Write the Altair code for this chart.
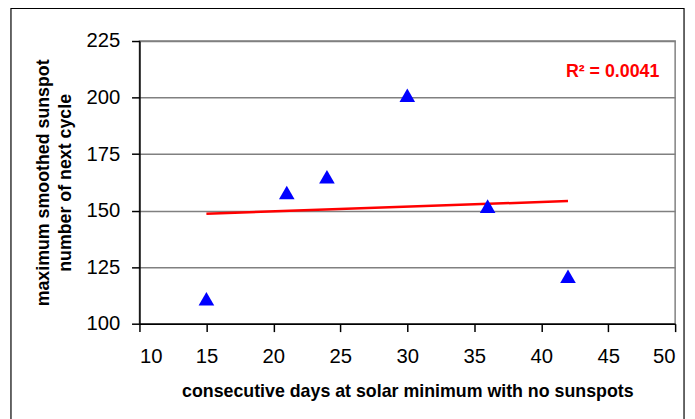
import altair as alt
import pandas as pd

days = [15, 21, 24, 30, 36, 42]
max_sunspot = [111, 158, 165, 201, 152, 121]
r2_label = "R² = 0.0041"
x_ticks = [10, 15, 20, 25, 30, 35, 40, 45, 50]
y_ticks = [100, 125, 150, 175, 200, 225]

df = pd.DataFrame({"days": days, "sunspot": max_sunspot})
one = pd.DataFrame({"a": [0]})

W, H = 542, 286

xs = alt.Scale(domain=[10, 50], nice=False, zero=False)
ys = alt.Scale(domain=[100, 225], nice=False, zero=False)

x_enc = alt.X("days:Q", scale=xs, axis=alt.Axis(
    values=x_ticks, grid=False, title="consecutive days at solar minimum with no sunspots",
    tickSize=8, labelPadding=15, titlePadding=16))
y_enc = alt.Y("sunspot:Q", scale=ys, axis=alt.Axis(
    values=y_ticks, grid=True, title=["maximum smoothed sunspot", "number of next cycle"],
    tickSize=8, labelPadding=12, titlePadding=12, titleLineHeight=22))

points = alt.Chart(df).mark_point(shape="triangle-up", filled=True, color="#0000ff",
                                  size=250, opacity=1).encode(x=x_enc, y=y_enc)

trend = alt.Chart(df).transform_regression("days", "sunspot").mark_line(
    color="#ff0000", strokeWidth=2.5).encode(x="days:Q", y="sunspot:Q")

r2 = alt.Chart(one).mark_text(text=r2_label, color="#ff0000", fontSize=18,
                              fontWeight="bold", align="right", baseline="middle",
                              font="Liberation Sans").encode(
    x=alt.value(526), y=alt.value(31))

frame = alt.Chart(one).mark_rect(fill=None, stroke="black", strokeWidth=1.2, clip=False).encode(
    x=alt.value(-130), x2=alt.value(551), y=alt.value(-33), y2=alt.value(420))

chart = alt.layer(frame, trend, points, r2).properties(
    width=W, height=H,
    autosize=alt.AutoSizeParams(type="none"),
    padding={"left": 133, "top": 31, "right": 12, "bottom": 94},
    background="white",
).configure_view(stroke="#808080", strokeWidth=1.5).configure_axis(
    labelFont="Liberation Sans", labelFontSize=20.5, labelColor="black",
    titleFont="Liberation Sans", titleFontSize=18, titleFontWeight="bold", titleColor="black",
    domainColor="black", domainWidth=1.5, tickColor="black", tickWidth=1.5,
    gridColor="#808080", gridWidth=1.5,
)

chart.save("out.html", embed_options={"renderer": "svg", "actions": False})
